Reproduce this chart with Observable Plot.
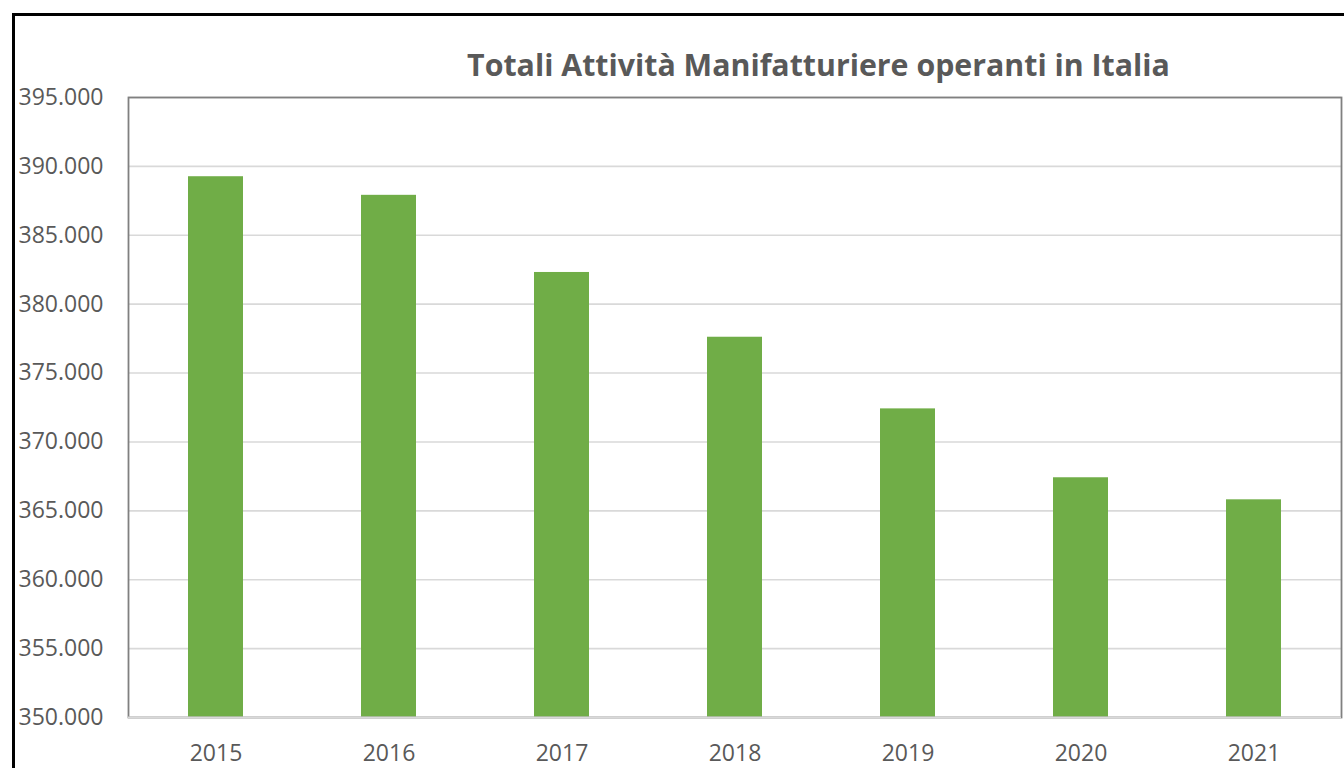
<!DOCTYPE html>
<html>
<head>
<meta charset="utf-8">
<script src="https://cdn.jsdelivr.net/npm/d3@7"></script>
<script src="https://cdn.jsdelivr.net/npm/@observablehq/plot@0.6"></script>
<style>
  html, body { margin: 0; padding: 0; background: #fff; overflow: hidden; width: 1344px; height: 768px; }
  #wrap { position: absolute; left: 12px; top: 13px; width: 1340px; height: 770px;
          border-left: 3px solid #000; border-top: 3px solid #000; }
  #title { position: relative; height: 30px; padding-top: 34px; }
  #title span { position: absolute; left: 803.5px; top: 34px; transform: translateX(-50%);
          white-space: nowrap; font-family: "Open Sans", sans-serif; font-weight: 700;
          color: #595959; line-height: 30px; font-size: 26px; }
  #chart svg { display: block; }
</style>
</head>
<body>
<div id="wrap">
  <div id="title"><span id="ttext">Totali Attività Manifatturiere operanti in Italia</span></div>
  <div id="chart"></div>
</div>
<script>
const years = ["2015", "2016", "2017", "2018", "2019", "2020", "2021"];
const values = [389250, 387900, 382300, 377600, 372400, 367400, 365800];
const yTicks = [350000, 355000, 360000, 365000, 370000, 375000, 380000, 385000, 390000, 395000];
const yBase = 350000;
const titleText = "Totali Attività Manifatturiere operanti in Italia";

const data = years.map((y, i) => ({year: y, value: values[i]}));

// fit title width to reference (~703px)
(function fitTitle() {
  const c = document.createElement("canvas").getContext("2d");
  c.font = "700 26px 'Open Sans'";
  const w = c.measureText(titleText).width;
  if (w > 0) document.getElementById("ttext").style.fontSize = (26 * 703 / w).toFixed(2) + "px";
})();

const fmt = d => d3.format(",")(d).replace(/,/g, ".");

const chart = Plot.plot({
  width: 1329,
  height: 688,
  marginLeft: 113,
  marginRight: 3,
  marginTop: 17,
  marginBottom: 51,
  style: { fontFamily: "'Open Sans', sans-serif", fontSize: "23px", color: "#595959", background: "#fff" },
  x: { domain: years, paddingInner: 0.68, paddingOuter: 0.34, label: null },
  y: { domain: [yBase, 395000], label: null },
  marks: [
    Plot.gridY(yTicks, { stroke: "#d9d9d9", strokeOpacity: 1, strokeWidth: 1.6 }),
    Plot.barY(data, { x: "year", y1: yBase, y2: "value", fill: "#70AD47" }),
    Plot.frame({ stroke: "#808080", strokeWidth: 1.8 }),
    Plot.ruleY([yBase], { stroke: "#d9d9d9", strokeWidth: 2 }),
    Plot.axisY(yTicks, { tickFormat: fmt, tickSize: 0, tickPadding: 25, fill: "#595959", label: null }),
    Plot.axisX({ tickSize: 0, tickPadding: 27, fill: "#595959", label: null })
  ]
});
document.getElementById("chart").appendChild(chart);
</script>
</body>
</html>
